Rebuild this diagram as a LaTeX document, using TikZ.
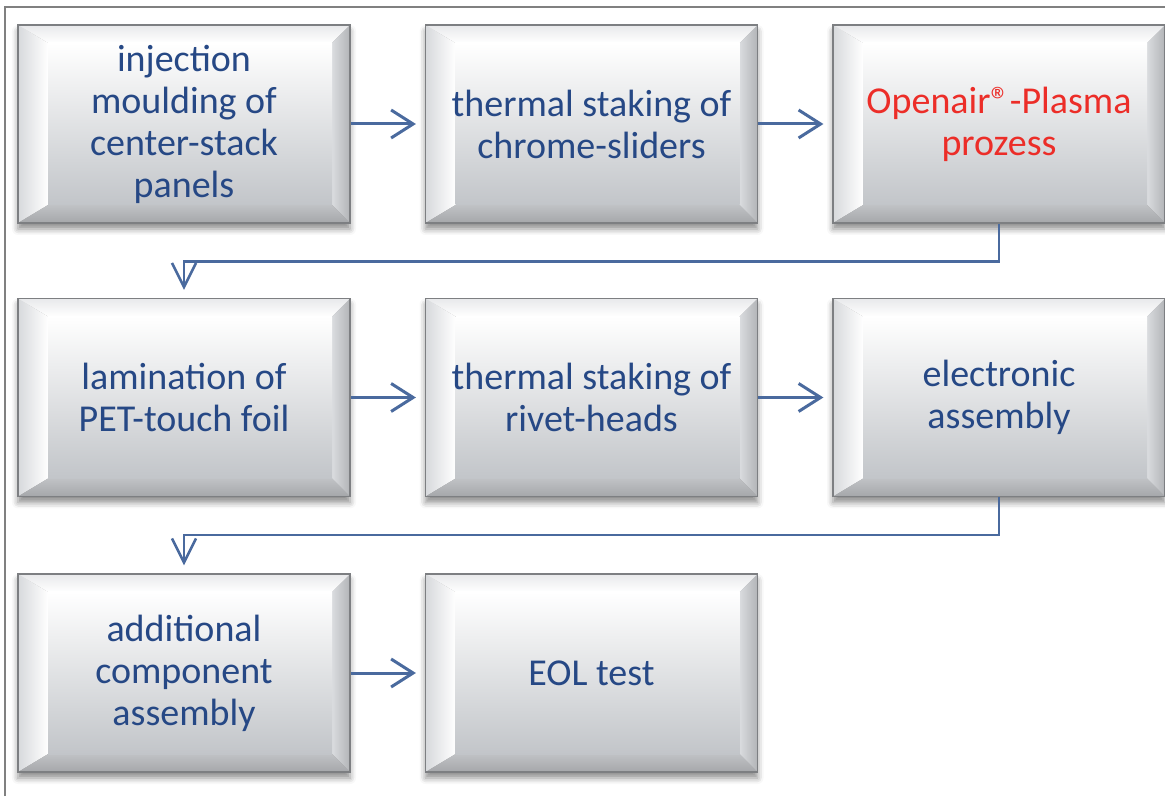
\documentclass[tikz,border=0pt]{standalone}
\usepackage{fontspec}
\setmainfont{Carlito}
\usetikzlibrary{calc,arrows.meta,shadows.blur}
\definecolor{txtblue}{RGB}{38,72,133}
\definecolor{txtred}{RGB}{236,45,40}
\definecolor{connblue}{RGB}{74,106,158}
\definecolor{framegray}{RGB}{128,128,128}
\definecolor{edgegray}{RGB}{125,127,130}
\definecolor{facebot}{RGB}{194,197,201}
\definecolor{bevT1}{RGB}{232,233,235}
\definecolor{bevL1}{RGB}{215,217,220}
\definecolor{bevR1}{RGB}{218,220,223}
\definecolor{bevR2}{RGB}{178,180,183}
\definecolor{bevB1}{RGB}{192,194,197}
\definecolor{bevB2}{RGB}{165,167,170}
\tikzset{
  bevbox/.style={rectangle, minimum width=332pt, minimum height=198pt, inner sep=0pt,
    draw=edgegray, line width=1.2pt, text=txtblue, align=center,
    font=\fontsize{38}{42}\selectfont,
    blur shadow={shadow xshift=0pt, shadow yshift=-6pt, shadow blur radius=6pt, shadow opacity=45},
    path picture={
      \coordinate (pnw) at (path picture bounding box.north west);
      \coordinate (pne) at (path picture bounding box.north east);
      \coordinate (psw) at (path picture bounding box.south west);
      \coordinate (pse) at (path picture bounding box.south east);
      \coordinate (inw) at ($(pnw)+(30pt,-18pt)$);
      \coordinate (ine) at ($(pne)+(-18pt,-18pt)$);
      \coordinate (isw) at ($(psw)+(30pt,18pt)$);
      \coordinate (ise) at ($(pse)+(-18pt,18pt)$);
      \shade[top color=bevT1, bottom color=white] (pnw) -- (pne) -- (ine) -- (inw) -- cycle;
      \shade[left color=bevL1, right color=white] (pnw) -- (inw) -- (isw) -- (psw) -- cycle;
      \shade[left color=bevR1, right color=bevR2] (pne) -- (pse) -- (ise) -- (ine) -- cycle;
      \shade[top color=bevB1, bottom color=bevB2] (psw) -- (pse) -- (ise) -- (isw) -- cycle;
      \shade[top color=white, bottom color=facebot] (inw) rectangle (ise);
    }},
  harrow/.style={draw=connblue, line width=3pt, shorten >=9pt,
    -{Straight Barb[length=22pt, width=28pt, line width=3pt]}},
  varrow/.style={draw=connblue, line width=2.6pt, shorten >=8pt,
    -{Straight Barb[length=24pt, width=24pt, line width=2.6pt]}},
}
\begin{document}
\begin{tikzpicture}[x=1pt,y=1pt]
\useasboundingbox (0,0) rectangle (1165,796);
\draw[framegray, line width=2pt] (5,0) -- (5,789) -- (1165,789);
\node[bevbox] (b1) at (184,672) {injection\\moulding of\\center-stack\\panels};
\node[bevbox] (b2) at (591.5,672) {thermal staking of\\chrome-sliders};
\node[bevbox, text=txtred] (b3) at (999,672) {Openair®-Plasma\\prozess};
\node[bevbox] (b4) at (184,398.5) {lamination of\\PET-touch foil};
\node[bevbox] (b5) at (591.5,398.5) {thermal staking of\\rivet-heads};
\node[bevbox] (b6) at (999,398.5) {electronic\\assembly};
\node[bevbox] (b7) at (184,123) {additional\\component\\assembly};
\node[bevbox] (b8) at (591.5,123) {EOL test};
\draw[harrow] (b1.east) -- (b2.west);
\draw[harrow] (b2.east) -- (b3.west);
\draw[harrow] (b4.east) -- (b5.west);
\draw[harrow] (b5.east) -- (b6.west);
\draw[harrow] (b7.east) -- (b8.west);
\draw[varrow] (b3.south) -- ++(0,-38) -| (b4.north);
\draw[varrow] (b6.south) -- ++(0,-38) -| (b7.north);
\end{tikzpicture}
\end{document}
